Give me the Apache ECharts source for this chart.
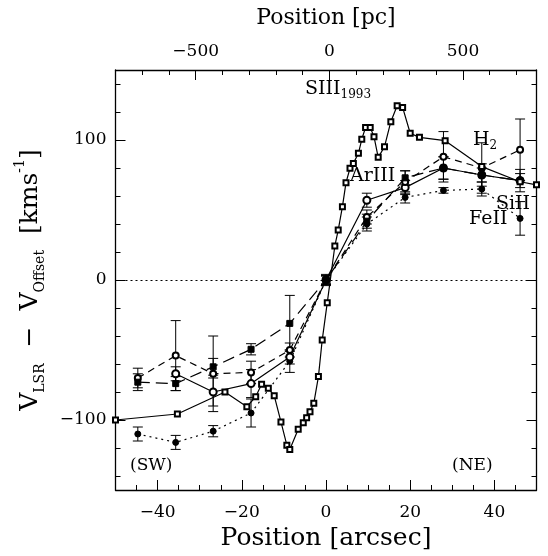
<!DOCTYPE html>
<html><head><meta charset="utf-8">
<script src="https://cdn.jsdelivr.net/npm/echarts@6/dist/echarts.min.js"></script>
<style>html,body{margin:0;padding:0;background:#fff}#c{width:548px;height:556px}</style>
</head><body><div id="c"></div>
<script>
// ---- data ----
const xPos = [-44.7, -35.7, -26.8, -17.8, -8.6, 0, 9.7, 18.8, 27.9, 37.0, 46.1];
const feII     = [-110, -116, -108, -95, -58, 0, 40, 59, 64, 65, 44];
const feIIErr  = [5, 5, 4, 10, 8, 3, 5, 4, 2, 5, 12];
const siII     = [null, -67, -80, -74, -55, 0, 57, 66, 80, 75, 71];
const siIIErr  = [null, 5, 10, 10, 5, 3, 5, 5, 8, 8, 8];
const h2       = [-70, -54, -67, -66, -50, 0, 45, 70, 88, 80, 93];
const h2Err    = [7, 25, 27, 8, 5, 3, 5, 8, 18, 18, 22];
const arIII    = [-73, -74, -62, -49.5, -31, 0, 42, 73, 80, 75, 71];
const arIIIErr = [6, 5, 6, 4, 20, 4, 5, 5, 8, 5, 5];
const siii1993X = [-50,-35.3,-24,-18.8,-16.7,-15.3,-13.7,-12.3,-10.7,-9.3,-8.6,-6.6,-5.4,-4.6,-3.8,-2.9,-1.8,-0.9,0.3,2.1,2.9,3.9,4.75,5.7,6.5,7.7,8.5,9.4,10.5,11.4,12.4,13.9,15.4,16.9,18.2,20,22.2,28.3,37,46.1,50];
const siii1993Y = [-100,-95.7,-80,-90.5,-83.4,-74.5,-77.4,-82.6,-101.4,-118,-121,-106.6,-101.9,-98.4,-94.1,-88.1,-69,-42.9,-16.2,24.3,35.7,52.4,69.5,79.8,83.3,90.5,100.5,109,109,102.4,87.6,95.2,113.1,124.5,123.3,104.8,101.9,99.5,81,70.2,68];
const xMajor = [-40, -20, 0, 20, 40];
const xMinor = [-50,-45,-40,-35,-30,-25,-20,-15,-10,-5,0,5,10,15,20,25,30,35,40,45,50];
const pcMajor = [-500, 0, 500];
const pcMinor = [-800,-700,-600,-500,-400,-300,-200,-100,0,100,200,300,400,500,600,700];
const yMajor = [-100, 0, 100];
const yMinor = [-140,-120,-100,-80,-60,-40,-20,0,20,40,60,80,100,120,140];

const FONT = 'DejaVu Serif';
const pair = (xs, ys) => xs.map((x, i) => [x, ys[i]]);
const errData = (ys, es) => xPos.map((x, i) => ys[i] == null ? null : [x, ys[i] - es[i], ys[i] + es[i]]).filter(d => d);

function errSeries(ys, es) {
  return {
    type: 'custom', xAxisIndex: 0, yAxisIndex: 0, silent: true, z: 3,
    data: errData(ys, es),
    renderItem: function (params, api) {
      const x = api.value(0);
      const lo = api.coord([x, api.value(1)]);
      const hi = api.coord([x, api.value(2)]);
      const w = 5;
      const st = { stroke: '#000', lineWidth: 1 };
      return { type: 'group', children: [
        { type: 'line', shape: { x1: lo[0], y1: lo[1], x2: hi[0], y2: hi[1] }, style: st },
        { type: 'line', shape: { x1: lo[0] - w, y1: lo[1], x2: lo[0] + w, y2: lo[1] }, style: st },
        { type: 'line', shape: { x1: hi[0] - w, y1: hi[1], x2: hi[0] + w, y2: hi[1] }, style: st }
      ]};
    }
  };
}
function lineSeries(name, ys, symbol, dash, size) {
  return {
    name, type: 'line', xAxisIndex: 0, yAxisIndex: 0, z: 4,
    data: pair(xPos, ys).filter(d => d[1] != null),
    symbol, symbolSize: size || 6,
    itemStyle: { color: '#000', borderColor: '#000', borderWidth: 1 },
    lineStyle: { color: '#000', width: 1.2, type: dash },
    animation: false
  };
}

const chart = echarts.init(document.getElementById('c'), null, { renderer: 'canvas' });
const tickFont = { fontFamily: FONT, fontSize: 17, color: '#000' };
const axLine = { show: true, onZero: false, lineStyle: { color: '#000', width: 1.3 } };
const noLine = { show: false, onZero: false };
const minus = v => (v < 0 ? '\u2212' + (-v) : '' + v);
const lbl = (t, x, y, size) => ({ type: 'text', left: x, top: y, z: 10,
  style: { text: t, fill: '#000', font: (size || 19) + 'px "DejaVu Serif"',
    rich: { s: { fontFamily: FONT, fontSize: 12, padding: [11, 0, 0, 0], fill: '#000' } } } });
chart.setOption({
  animation: false,
  backgroundColor: '#fff',
  grid: { left: 115.5, right: 11.5, top: 70, bottom: 66 },
  xAxis: [
    { type: 'value', position: 'bottom', min: -50, max: 50,
      axisLine: axLine, splitLine: { show: false },
      axisTick: { inside: true, length: 10, customValues: xMajor, lineStyle: { color: '#000' } },
      axisLabel: { customValues: xMajor, ...tickFont, margin: 14, formatter: minus },
      name: 'Position [arcsec]', nameLocation: 'middle', nameGap: 33,
      nameTextStyle: { fontFamily: FONT, fontSize: 25, color: '#000' } },
    { type: 'value', position: 'top', min: -800, max: 775,
      axisLine: axLine, splitLine: { show: false },
      axisTick: { inside: true, length: 10, customValues: pcMajor, lineStyle: { color: '#000' } },
      axisLabel: { customValues: pcMajor, ...tickFont, margin: 10, formatter: minus },
      name: 'Position [pc]', nameLocation: 'middle', nameGap: 41,
      nameTextStyle: { fontFamily: FONT, fontSize: 22, color: '#000' } },
    { type: 'value', position: 'bottom', min: -50, max: 50,
      axisLine: noLine, splitLine: { show: false }, axisLabel: { show: false },
      axisTick: { inside: true, length: 5, customValues: xMinor, lineStyle: { color: '#000' } } },
    { type: 'value', position: 'top', min: -800, max: 775,
      axisLine: noLine, splitLine: { show: false }, axisLabel: { show: false },
      axisTick: { inside: true, length: 5, customValues: pcMinor, lineStyle: { color: '#000' } } }
  ],
  yAxis: [
    { type: 'value', position: 'left', min: -150, max: 150,
      axisLine: axLine, splitLine: { show: false },
      axisTick: { inside: true, length: 10, customValues: yMajor, lineStyle: { color: '#000' } },
      axisLabel: { customValues: yMajor, ...tickFont, margin: 9, formatter: minus },
      name: 'V{sub|LSR}  \u2212  V{sub|Offset}  [kms{sup|-1}]', nameLocation: 'middle', nameGap: 68, nameRotate: 90,
      nameTextStyle: { fontFamily: FONT, fontSize: 25, color: '#000', lineHeight: 34,
        rich: { sub: { fontFamily: FONT, fontSize: 14, verticalAlign: 'bottom', lineHeight: 34, color: '#000' },
                sup: { fontFamily: FONT, fontSize: 14, verticalAlign: 'top', lineHeight: 34, color: '#000' } } } },
    { type: 'value', position: 'left', min: -150, max: 150,
      axisLine: noLine, splitLine: { show: false }, axisLabel: { show: false },
      axisTick: { inside: true, length: 5, customValues: yMinor, lineStyle: { color: '#000' } } },
    { type: 'value', position: 'right', min: -150, max: 150,
      axisLine: axLine, splitLine: { show: false }, axisLabel: { show: false },
      axisTick: { inside: true, length: 10, customValues: yMajor, lineStyle: { color: '#000' } } },
    { type: 'value', position: 'right', min: -150, max: 150,
      axisLine: noLine, splitLine: { show: false }, axisLabel: { show: false },
      axisTick: { inside: true, length: 5, customValues: yMinor, lineStyle: { color: '#000' } } }
  ],
  series: [
    { type: 'line', xAxisIndex: 0, yAxisIndex: 0, data: [], silent: true,
      markLine: { silent: true, symbol: 'none', label: { show: false },
        lineStyle: { color: '#000', type: [2, 3], width: 1 }, data: [{ yAxis: 0 }] } },
    errSeries(feII, feIIErr), errSeries(siII, siIIErr), errSeries(h2, h2Err), errSeries(arIII, arIIIErr),
    lineSeries('FeII', feII, 'circle', [2, 4], 6),
    lineSeries('SiII', siII, 'emptyCircle', 'solid', 7),
    lineSeries('H2', h2, 'emptyCircle', [7, 5], 6),
    lineSeries('ArIII', arIII, 'rect', [12, 6], 6),
    { name: 'SIII1993', type: 'line', xAxisIndex: 0, yAxisIndex: 0, z: 5,
      data: pair(siii1993X, siii1993Y), symbol: 'emptyRect', symbolSize: 5,
      itemStyle: { color: '#000', borderColor: '#000', borderWidth: 1 },
      lineStyle: { color: '#000', width: 1.2 } }
  ],
  graphic: [
    lbl('SIII{s|1993}', 305, 80),
    lbl('H{s|2}', 473, 131),
    lbl('ArIII', 350, 167),
    lbl('SiII', 496, 195),
    lbl('FeII', 469, 210),
    lbl('(SW)', 130, 457, 17),
    lbl('(NE)', 452, 457, 17)
  ]
});
</script></body></html>
